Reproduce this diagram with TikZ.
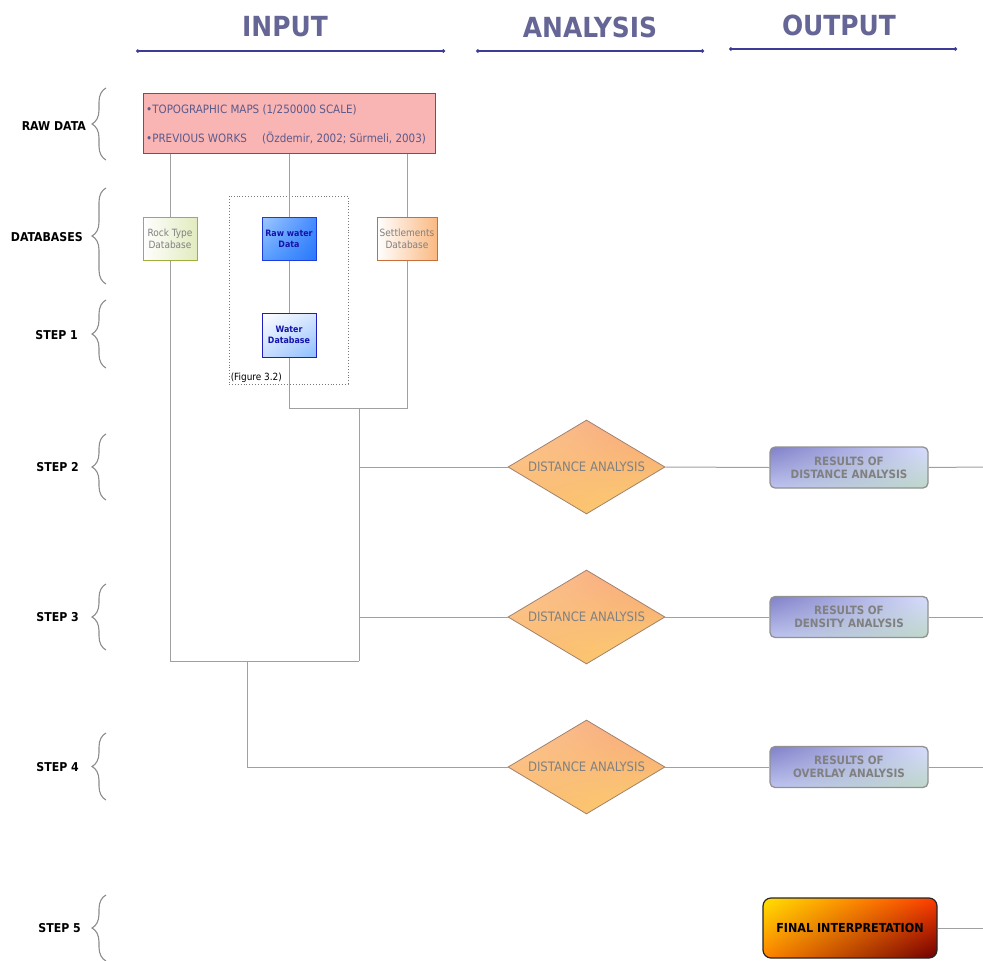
\documentclass[tikz,border=0pt]{standalone}
\usepackage{fontspec}
\setmainfont{DejaVu Sans Condensed}
\usetikzlibrary{shapes.geometric,decorations.pathreplacing,arrows.meta,shadings}
\definecolor{headc}{RGB}{102,102,150}
\definecolor{hlinec}{RGB}{60,60,150}
\definecolor{rawfill}{RGB}{249,180,180}
\definecolor{rawdraw}{RGB}{225,35,35}
\definecolor{rawtext}{RGB}{90,90,140}
\definecolor{connc}{RGB}{160,160,160}
\definecolor{bracec}{RGB}{140,140,140}
\definecolor{graytext}{RGB}{128,128,128}
\definecolor{darkblue}{RGB}{20,20,170}
\tikzset{
  x=1pt,y=-1pt,
  headtxt/.style={font=\bfseries\fontsize{27.7}{32}\selectfont,text=headc,inner sep=0},
  hline/.style={draw=hlinec,line width=1.2pt,{Circle[length=3.5pt]}-{Circle[length=3.5pt]}},
  rowlab/.style={font=\bfseries\fontsize{12.2}{14}\selectfont,anchor=east,inner sep=0},
  rowbrace/.style={draw=bracec,line width=1.1pt,decorate,decoration={brace,amplitude=14pt}},
  rawtxt/.style={font=\fontsize{11.5}{13}\selectfont,text=rawtext,anchor=west,inner sep=0},
  dbbox/.style={rectangle,minimum width=54,minimum height=43,inner sep=0,align=center,
    font=\fontsize{10}{12}\selectfont,line width=1pt},
  dbbold/.style={font=\bfseries\fontsize{8.8}{11}\selectfont,text=darkblue},
  conn/.style={draw=connc,line width=1pt},
  diam/.style={diamond,minimum width=157,minimum height=94,inner sep=0,draw={rgb,255:red,160;green,130;blue,110},
    line width=0.8pt,upper left={rgb,255:red,252;green,200;blue,150},upper right={rgb,255:red,246;green,160;blue,120},
    lower left={rgb,255:red,250;green,185;blue,110},lower right={rgb,255:red,252;green,210;blue,110}},
  diamtxt/.style={font=\fontsize{13}{15}\selectfont,text=graytext,inner sep=0},
  resbox/.style={rectangle,rounded corners=5pt,minimum width=158,minimum height=41,inner sep=0,align=center,
    draw={rgb,255:red,145;green,145;blue,145},line width=1.3pt,text=graytext,
    font=\bfseries\fontsize{11.5}{13}\selectfont,
    upper left={rgb,255:red,128;green,128;blue,200},upper right={rgb,255:red,215;green,220;blue,255},
    lower left={rgb,255:red,190;green,195;blue,240},lower right={rgb,255:red,190;green,215;blue,200}},
}
\begin{document}
\begin{tikzpicture}
\useasboundingbox (0,0) rectangle (983,961);
% headings
\node[headtxt] (hin) at (285,27) {INPUT};
\node[headtxt] (han) at (590,27) {ANALYSIS};
\node[headtxt] (hout) at (839,25) {OUTPUT};
\coordinate (l1a) at (136,51); \coordinate (l1b) at (445,51);
\coordinate (l2a) at (476,51); \coordinate (l2b) at (704,51);
\coordinate (l3a) at (729,49); \coordinate (l3b) at (957,49);
\draw[hline] (l1a) -- (l1b);
\draw[hline] (l2a) -- (l2b);
\draw[hline] (l3a) -- (l3b);
% row labels and braces
\node[rowlab] (lraw) at (86,126) {RAW DATA};
\node[rowlab] (ldb) at (83,237) {DATABASES};
\node[rowlab] (ls1) at (78,335) {STEP 1};
\node[rowlab] (ls2) at (79,467) {STEP 2};
\node[rowlab] (ls3) at (79,617) {STEP 3};
\node[rowlab] (ls4) at (79,767) {STEP 4};
\node[rowlab] (ls5) at (81,928) {STEP 5};
\coordinate (b1a) at (106,160); \coordinate (b1b) at (106,88);
\coordinate (b2a) at (106,284); \coordinate (b2b) at (106,188);
\coordinate (b3a) at (106,368); \coordinate (b3b) at (106,300);
\coordinate (b4a) at (106,500); \coordinate (b4b) at (106,434);
\coordinate (b5a) at (106,650); \coordinate (b5b) at (106,584);
\coordinate (b6a) at (106,800); \coordinate (b6b) at (106,733);
\coordinate (b7a) at (106,961); \coordinate (b7b) at (106,895);
\draw[rowbrace] (b1a) -- (b1b);
\draw[rowbrace] (b2a) -- (b2b);
\draw[rowbrace] (b3a) -- (b3b);
\draw[rowbrace] (b4a) -- (b4b);
\draw[rowbrace] (b5a) -- (b5b);
\draw[rowbrace] (b6a) -- (b6b);
\draw[rowbrace] (b7a) -- (b7b);
% raw data box
\node[rectangle,minimum width=292,minimum height=60,inner sep=0,fill=rawfill,draw=rawdraw,line width=1pt] (raw) at (289,123) {};
\node[rawtxt] (rt1) at (146,110) {•TOPOGRAPHIC MAPS (1/250000 SCALE)};
\node[rawtxt] (rt2) at (146,138) {•PREVIOUS WORKS};
\node[rawtxt] (rt3) at (262,138) {(Özdemir, 2002; Sürmeli, 2003)};
% dotted frame
\node[rectangle,minimum width=119,minimum height=188,inner sep=0,draw={rgb,255:red,120;green,120;blue,120},dotted,line width=0.9pt] (frame) at (288.5,290) {};
\node[anchor=south west,inner sep=2pt,font=\fontsize{9.9}{11}\selectfont] (figl) at (frame.south west) {(Figure 3.2)};
% database boxes
\node[dbbox,draw={rgb,255:red,160;green,175;blue,60},left color=white,right color={rgb,255:red,225;green,235;blue,190},text=graytext] (rock) at (170,238.5) {Rock Type\\Database};
\node[dbbox,dbbold,draw={rgb,255:red,30;green,60;blue,220},upper left={rgb,255:red,160;green,200;blue,255},upper right={rgb,255:red,70;green,140;blue,255},lower left={rgb,255:red,90;green,160;blue,255},lower right={rgb,255:red,40;green,120;blue,250}] (rw) at (289,238.5) {Raw water\\Data};
\node[dbbox,minimum width=60,draw={rgb,255:red,200;green,110;blue,60},left color=white,right color={rgb,255:red,250;green,185;blue,130},text=graytext] (set) at (407,238.5) {Settlements\\Database};
\node[dbbox,dbbold,minimum height=44,draw={rgb,255:red,30;green,30;blue,190},upper left=white,upper right={rgb,255:red,215;green,230;blue,255},lower left={rgb,255:red,200;green,220;blue,255},lower right={rgb,255:red,140;green,190;blue,255}] (wdb) at (289,335) {Water\\Database};
% diamonds
\node[diam] (d1) at (586.5,467) {};
\node[diam] (d2) at (586.5,617) {};
\node[diam] (d3) at (586.5,767) {};
\node[diamtxt] (t1) at (d1.center) {DISTANCE ANALYSIS};
\node[diamtxt] (t2) at (d2.center) {DISTANCE ANALYSIS};
\node[diamtxt] (t3) at (d3.center) {DISTANCE ANALYSIS};
% results
\node[resbox] (r1) at (849,467.5) {RESULTS OF\\DISTANCE ANALYSIS};
\node[resbox] (r2) at (849,617) {RESULTS OF\\DENSITY ANALYSIS};
\node[resbox] (r3) at (849,767) {RESULTS OF\\OVERLAY ANALYSIS};
% final
\node[rectangle,rounded corners=8pt,minimum width=174,minimum height=60,inner sep=0,draw=black!85,line width=1.2pt,
  upper left={rgb,255:red,255;green,225;blue,0},upper right={rgb,255:red,255;green,60;blue,0},
  lower left={rgb,255:red,255;green,130;blue,0},lower right={rgb,255:red,110;green,0;blue,0},
  font=\bfseries\fontsize{12.4}{14}\selectfont] (fin) at (850,928) {FINAL INTERPRETATION};
% connectors
\coordinate (j1) at (359,408);
\coordinate (j2) at (359,661);
\coordinate (j3) at (247,661);
\coordinate (e1) at (983,467);
\coordinate (e2) at (983,617);
\coordinate (e3) at (983,767);
\coordinate (e4) at (983,928);
\draw[conn] (rock.north |- raw.south) -- (rock.north);
\draw[conn] (rw.north |- raw.south) -- (rw.north);
\draw[conn] (set.north |- raw.south) -- (set.north);
\draw[conn] (rw.south) -- (wdb.north);
\draw[conn] (wdb.south) -- (wdb.south |- j1) -- (set.south |- j1) -- (set.south);
\draw[conn] (j1) -- (j2);
\draw[conn] (rock.south) -- (rock.south |- j2) -- (j2);
\draw[conn] (j1 |- d1.west) -- (d1.west);
\draw[conn] (j1 |- d2.west) -- (d2.west);
\draw[conn] (j3) -- (j3 |- d3.west) -- (d3.west);
\draw[conn] (d1.east) -- (r1.west);
\draw[conn] (d2.east) -- (r2.west);
\draw[conn] (d3.east) -- (r3.west);
\draw[conn] (r1.east) -- (e1);
\draw[conn] (r2.east) -- (e2);
\draw[conn] (r3.east) -- (e3);
\draw[conn] (fin.east) -- (e4);
\end{tikzpicture}
\end{document}
